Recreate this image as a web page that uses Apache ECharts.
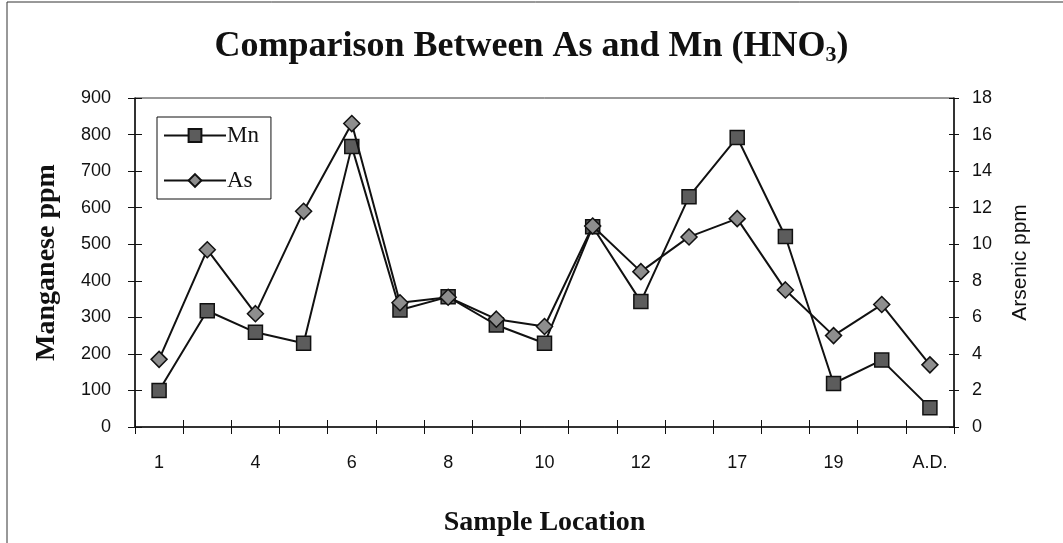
<!DOCTYPE html>
<html>
<head>
<meta charset="utf-8">
<script src="https://cdn.jsdelivr.net/npm/echarts@6/dist/echarts.min.js"></script>
<style>
  html, body { margin: 0; padding: 0; background: #fff; }
  #chart { width: 1063px; height: 543px; }
</style>
</head>
<body>
<div id="chart"></div>
<script>
// Sample locations along the x axis (every other one is labelled)
const categories = ['1', '3', '4', '5', '6', '7', '8', '9', '10', '11', '12', '13', '17', '18', '19', '20', 'A.D.'];
// Manganese concentration, ppm (left axis)
const mnValues = [100, 318, 259, 229, 767, 320, 356, 279, 229, 548, 343, 630, 792, 521, 119, 183, 53];
// Arsenic concentration, ppm (right axis)
const asValues = [3.7, 9.7, 6.2, 11.8, 16.6, 6.8, 7.1, 5.9, 5.5, 11.0, 8.5, 10.4, 11.4, 7.5, 5.0, 6.7, 3.4];
// Axis ranges
const mnAxis = { min: 0, max: 900, interval: 100 };
const asAxis = { min: 0, max: 18, interval: 2 };

const serif = '"Liberation Serif", "Times New Roman", serif';
const sans = '"Liberation Sans", Arial, sans-serif';
const ink = '#111';

const gridBox = { left: 135, right: 109, top: 98, bottom: 116 };

const chart = echarts.init(document.getElementById('chart'), null, { renderer: 'canvas' });

const tickLabel = { color: ink, fontFamily: sans, fontSize: 18 };

chart.setOption({
  animation: false,
  backgroundColor: '#fff',
  title: {
    text: '{t|Comparison Between As and Mn (HNO}{s|3}{t|)}',
    left: 'center',
    top: 21,
    textStyle: {
      rich: {
        t: { fontFamily: serif, fontWeight: 'bold', fontSize: 36, color: ink, lineHeight: 42 },
        s: { fontFamily: serif, fontWeight: 'bold', fontSize: 22, color: ink, lineHeight: 42, padding: [17, 0, 0, 0] }
      }
    }
  },
  legend: {
    orient: 'vertical',
    left: 157,
    top: 117,
    padding: [7, 12, 7, 6],
    itemGap: 22,
    itemWidth: 62,
    itemHeight: 16,
    borderColor: ink,
    borderWidth: 1,
    textStyle: { fontFamily: serif, fontSize: 23, color: ink, padding: [0, 0, 0, -4] },
    data: ['Mn', 'As']
  },
  graphic: [
    {
      type: 'rect',
      shape: { x: 7, y: 2, width: 1080, height: 600 },
      style: { fill: 'none', stroke: '#333', lineWidth: 1 },
      silent: true
    }
  ],
  grid: [
    Object.assign({ show: true, borderColor: '#333', borderWidth: 1, backgroundColor: 'transparent' }, gridBox),
    Object.assign({}, gridBox)
  ],
  xAxis: [
    {
      type: 'category',
      data: categories,
      boundaryGap: true,
      name: 'Sample Location',
      nameLocation: 'middle',
      nameGap: 82,
      nameTextStyle: { fontFamily: serif, fontWeight: 'bold', fontSize: 28, color: ink },
      axisLine: { lineStyle: { color: ink, width: 1.5 } },
      axisTick: { show: true, interval: 0, length: 7, lineStyle: { color: ink } },
      axisLabel: Object.assign({ interval: 1, margin: 27 }, tickLabel),
      splitLine: { show: false }
    },
    {
      type: 'category',
      gridIndex: 1,
      data: categories,
      boundaryGap: true,
      axisLine: { show: false },
      axisTick: { show: true, inside: true, interval: 0, length: 7, lineStyle: { color: ink } },
      axisLabel: { show: false },
      splitLine: { show: false }
    }
  ],
  yAxis: [
    Object.assign({
      type: 'value',
      position: 'left',
      name: 'Manganese ppm',
      nameLocation: 'middle',
      nameGap: 74,
      nameRotate: 90,
      nameTextStyle: { fontFamily: serif, fontWeight: 'bold', fontSize: 28, color: ink },
      axisLine: { show: true, lineStyle: { color: ink, width: 1.5 } },
      axisTick: { show: true, length: 7, lineStyle: { color: ink } },
      axisLabel: Object.assign({ margin: 24 }, tickLabel),
      splitLine: { show: false }
    }, mnAxis),
    Object.assign({
      type: 'value',
      position: 'right',
      name: 'Arsenic ppm',
      nameLocation: 'middle',
      nameGap: 56,
      nameRotate: 90,
      nameTextStyle: { fontFamily: sans, fontSize: 21, color: ink },
      axisLine: { show: true, lineStyle: { color: ink, width: 1.5 } },
      axisTick: { show: true, length: 5, lineStyle: { color: ink } },
      axisLabel: Object.assign({ margin: 18 }, tickLabel),
      splitLine: { show: false }
    }, asAxis),
    Object.assign({
      type: 'value',
      gridIndex: 1,
      position: 'left',
      axisLine: { show: false },
      axisTick: { show: true, inside: true, length: 7, lineStyle: { color: ink } },
      axisLabel: { show: false },
      splitLine: { show: false }
    }, mnAxis),
    Object.assign({
      type: 'value',
      gridIndex: 1,
      position: 'right',
      axisLine: { show: false },
      axisTick: { show: true, inside: true, length: 5, lineStyle: { color: ink } },
      axisLabel: { show: false },
      splitLine: { show: false }
    }, asAxis)
  ],
  series: [
    {
      name: 'Mn',
      type: 'line',
      xAxisIndex: 0,
      yAxisIndex: 0,
      data: mnValues,
      symbol: 'rect',
      symbolSize: 14,
      lineStyle: { color: ink, width: 2 },
      itemStyle: { color: '#5c5c5c', borderColor: ink, borderWidth: 1.5 },
      z: 3
    },
    {
      name: 'As',
      type: 'line',
      xAxisIndex: 0,
      yAxisIndex: 1,
      data: asValues,
      symbol: 'diamond',
      symbolSize: 16,
      lineStyle: { color: ink, width: 2 },
      itemStyle: { color: '#8e8e8e', borderColor: ink, borderWidth: 1.5 },
      z: 4
    }
  ]
});
</script>
</body>
</html>
